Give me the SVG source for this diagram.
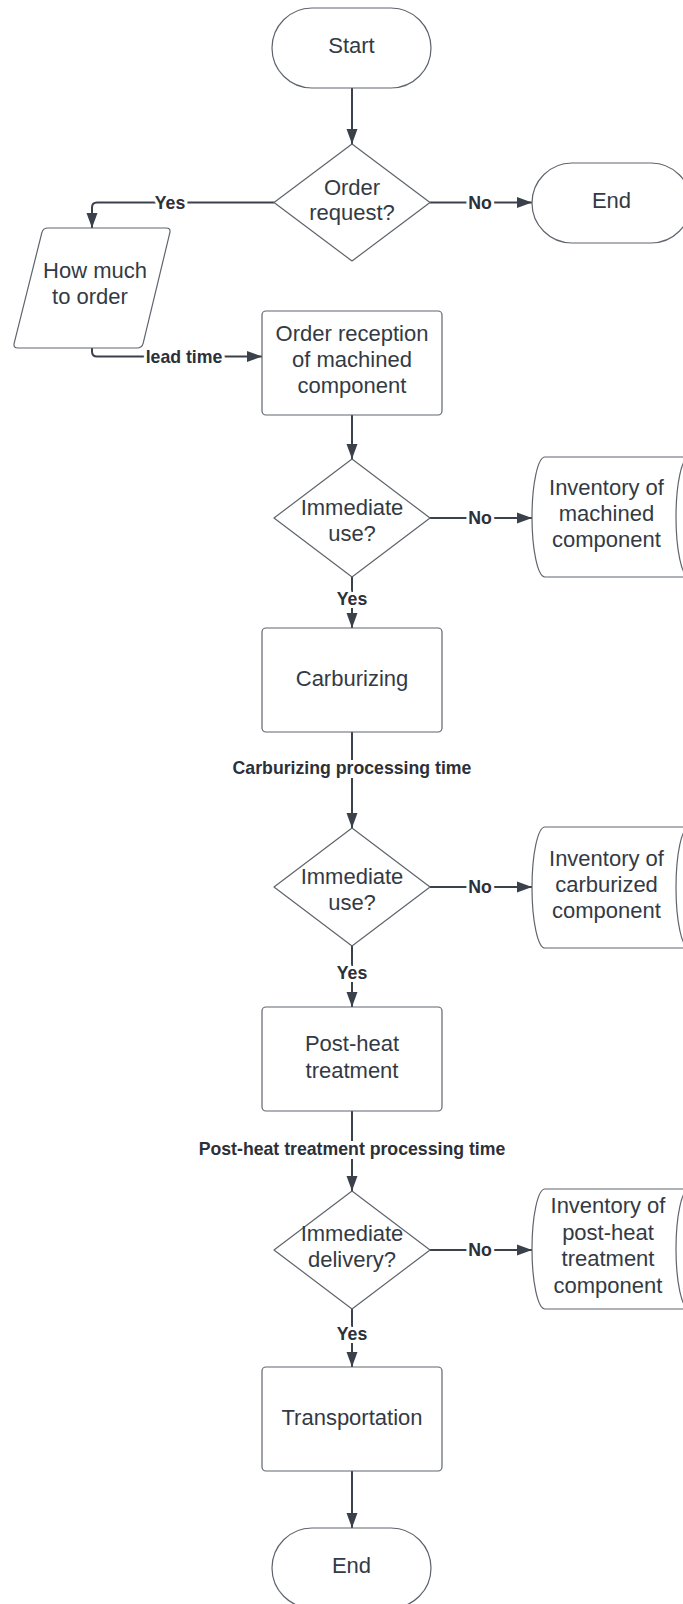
<svg xmlns="http://www.w3.org/2000/svg" width="683" height="1604" viewBox="0 0 683 1604">
<style>
.shape{fill:#ffffff;stroke:#5f646c;stroke-width:1.2;stroke-linejoin:round}
.t{font-family:"Liberation Sans",Arial,sans-serif;font-size:22px;fill:#333a44;text-anchor:middle}
.conn{fill:none;stroke:#3a414a;stroke-width:2}
.lbl{font-family:"Liberation Sans",Arial,sans-serif;font-size:17.7px;font-weight:bold;fill:#2c3038;text-anchor:middle;paint-order:stroke;stroke:#ffffff;stroke-width:6px;stroke-linejoin:round}
.bg{fill:#ffffff}
</style>
<defs>
<marker id="arr" markerUnits="userSpaceOnUse" markerWidth="16" markerHeight="12" refX="15" refY="6" orient="auto">
<path d="M0,0.5 L15,6 L0,11.5 Z" fill="#3a414a"/>
</marker>
</defs>
<rect width="683" height="1604" fill="#ffffff"/>

<g id="connectors">
<path class="conn" d="M352,88 V144" marker-end="url(#arr)"/>
<path class="conn" d="M430,202.5 H532" marker-end="url(#arr)"/>
<path class="conn" d="M274,202.5 H97 Q92,202.5 92,207.5 V228" marker-end="url(#arr)"/>
<path class="conn" d="M92,348 V351.5 Q92,356.5 97,356.5 H262" marker-end="url(#arr)"/>
<path class="conn" d="M352,415 V459" marker-end="url(#arr)"/>
<path class="conn" d="M430,518 H532" marker-end="url(#arr)"/>
<path class="conn" d="M352,577 V628" marker-end="url(#arr)"/>
<path class="conn" d="M352,732 V828" marker-end="url(#arr)"/>
<path class="conn" d="M430,887 H532" marker-end="url(#arr)"/>
<path class="conn" d="M352,946 V1007" marker-end="url(#arr)"/>
<path class="conn" d="M352,1111 V1191" marker-end="url(#arr)"/>
<path class="conn" d="M430,1250 H532" marker-end="url(#arr)"/>
<path class="conn" d="M352,1309 V1367" marker-end="url(#arr)"/>
<path class="conn" d="M352,1471 V1528" marker-end="url(#arr)"/>
<rect class="bg" x="146" y="349" width="77" height="16"/>
<rect class="bg" x="230" y="760" width="244" height="18"/>
<rect class="bg" x="196" y="1141" width="312" height="18"/>
<text class="lbl" x="480" y="208.5">No</text>
<text class="lbl" x="170" y="208.5">Yes</text>
<text class="lbl" x="184" y="362.5">lead time</text>
<text class="lbl" x="480" y="524">No</text>
<text class="lbl" x="352" y="605">Yes</text>
<text class="lbl" x="352" y="774">Carburizing processing time</text>
<text class="lbl" x="480" y="893">No</text>
<text class="lbl" x="352" y="979">Yes</text>
<text class="lbl" x="352" y="1155">Post-heat treatment processing time</text>
<text class="lbl" x="480" y="1256">No</text>
<text class="lbl" x="352" y="1340">Yes</text>
</g>

<g id="start">
<rect class="shape" x="272" y="8" width="159" height="80" rx="40"/>
<text class="t" x="351.5" y="53">Start</text>
</g>

<g id="order-request">
<polygon class="shape" points="352,144 430,202.5 352,261 274,202.5"/>
<text class="t" x="352" y="195">Order</text>
<text class="t" x="352" y="220">request?</text>
</g>

<g id="end-top">
<rect class="shape" x="532" y="163" width="159" height="80" rx="40"/>
<text class="t" x="611.5" y="207.5">End</text>
</g>

<g id="how-much">
<path class="shape" d="M48,228 H166 Q171,228 169.8,232.9 L143.2,343.1 Q142,348 137,348 H18 Q13,348 14.2,343.1 L41.8,232.9 Q43,228 48,228 Z"/>
<text class="t" x="95" y="278">How much</text>
<text class="t" x="90" y="304">to order</text>
</g>

<g id="order-reception">
<rect class="shape" x="262" y="311" width="180" height="104" rx="4"/>
<text class="t" x="352" y="341">Order reception</text>
<text class="t" x="352" y="367">of machined</text>
<text class="t" x="352" y="393">component</text>
</g>

<g id="immediate-use-1">
<polygon class="shape" points="352,459 430,518 352,577 274,518"/>
<text class="t" x="352" y="515">Immediate</text>
<text class="t" x="352" y="541">use?</text>
</g>

<g id="inventory-machined">
<path class="shape" d="M545,457 H689 A13,60 0 0 1 689,577 H545 A13,60 0 0 1 545,457 Z"/>
<path class="shape" fill="none" d="M689,457 A13,60 0 0 0 689,577"/>
<text class="t" x="606.5" y="495">Inventory of</text>
<text class="t" x="606.5" y="521">machined</text>
<text class="t" x="606.5" y="547">component</text>
</g>

<g id="carburizing">
<rect class="shape" x="262" y="628" width="180" height="104" rx="4"/>
<text class="t" x="352" y="686">Carburizing</text>
</g>

<g id="immediate-use-2">
<polygon class="shape" points="352,828 430,887 352,946 274,887"/>
<text class="t" x="352" y="884">Immediate</text>
<text class="t" x="352" y="910">use?</text>
</g>

<g id="inventory-carburized">
<path class="shape" d="M545,827 H689 A13,60.5 0 0 1 689,948 H545 A13,60.5 0 0 1 545,827 Z"/>
<path class="shape" fill="none" d="M689,827 A13,60.5 0 0 0 689,948"/>
<text class="t" x="606.5" y="866">Inventory of</text>
<text class="t" x="606.5" y="892">carburized</text>
<text class="t" x="606.5" y="918">component</text>
</g>

<g id="post-heat">
<rect class="shape" x="262" y="1007" width="180" height="104" rx="4"/>
<text class="t" x="352" y="1051">Post-heat</text>
<text class="t" x="352" y="1077.5">treatment</text>
</g>

<g id="immediate-delivery">
<polygon class="shape" points="352,1191 430,1250 352,1309 274,1250"/>
<text class="t" x="352" y="1241">Immediate</text>
<text class="t" x="352" y="1267">delivery?</text>
</g>

<g id="inventory-post-heat">
<path class="shape" d="M545,1189 H689 A13,60 0 0 1 689,1309 H545 A13,60 0 0 1 545,1189 Z"/>
<path class="shape" fill="none" d="M689,1189 A13,60 0 0 0 689,1309"/>
<text class="t" x="608" y="1213">Inventory of</text>
<text class="t" x="608" y="1240">post-heat</text>
<text class="t" x="608" y="1266">treatment</text>
<text class="t" x="608" y="1292.5">component</text>
</g>

<g id="transportation">
<rect class="shape" x="262" y="1367" width="180" height="104" rx="4"/>
<text class="t" x="352" y="1425">Transportation</text>
</g>

<g id="end-bottom">
<rect class="shape" x="272" y="1528" width="159" height="80" rx="40"/>
<text class="t" x="351.5" y="1573">End</text>
</g>
</svg>
